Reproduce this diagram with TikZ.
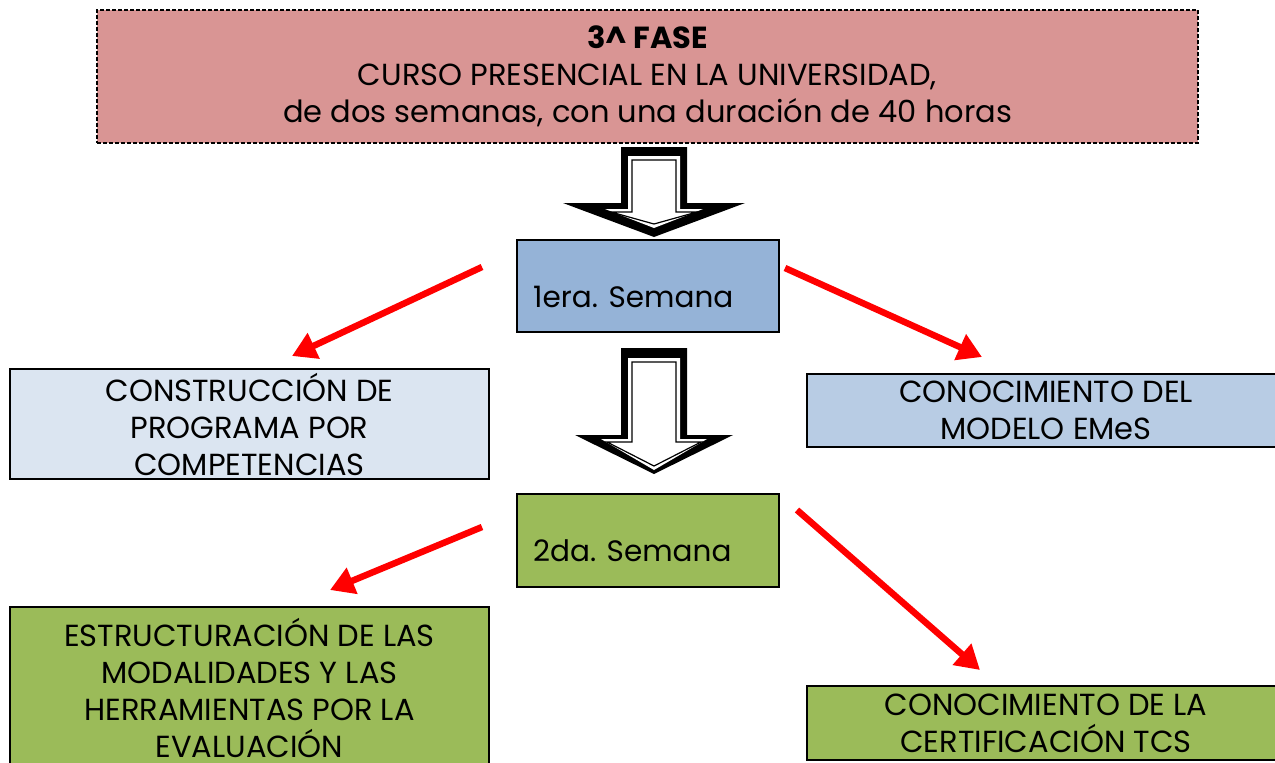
\documentclass[tikz,border=0pt]{standalone}
\usepackage{fontspec}
\setmainfont{Poppins}
\usetikzlibrary{arrows.meta}
\definecolor{faserosa}{HTML}{D99594}
\definecolor{semazul}{HTML}{95B3D7}
\definecolor{azulclaro}{HTML}{DBE5F1}
\definecolor{azulmedio}{HTML}{B8CCE4}
\definecolor{verdeoliva}{HTML}{9BBB59}

\begin{document}
\begin{tikzpicture}[x=1pt, y=-1pt,
    caja/.style={draw, line width=1.8pt, align=center, inner sep=0pt,
      font=\fontsize{30.5}{37}\selectfont},
    etiqueta/.style={anchor=west, inner sep=0pt, font=\fontsize{29.5}{36}\selectfont},
    flecharoja/.style={draw=red, line width=6.5pt, -{Triangle[length=24pt,width=27pt]}}]
  \useasboundingbox (0,0) rectangle (1275,763);

  % cajas
  \node[caja, fill=faserosa, dashed, line width=1.3pt, dash pattern=on 4pt off 2pt,
    minimum width=1101pt, minimum height=133pt] (fase) at (647.5,76.5)
    {{\bfseries 3\textasciicircum{} FASE}\\CURSO PRESENCIAL EN LA UNIVERSIDAD,\\de dos semanas, con una duración de 40 horas};
  \node[caja, fill=semazul, minimum width=262pt, minimum height=92pt] (sem1) at (648,286) {};
  \node[etiqueta] (sem1txt) at (533,297) {1era. Semana};
  \node[caja, fill=azulclaro, minimum width=479pt, minimum height=110pt] (constr) at (249.5,424)
    {CONSTRUCCIÓN DE\\PROGRAMA POR\\COMPETENCIAS};
  \node[caja, fill=azulmedio, minimum width=478pt, minimum height=73pt] (modelo) at (1046,410.5)
    {CONOCIMIENTO DEL\\MODELO EMeS};
  \node[caja, fill=verdeoliva, minimum width=262pt, minimum height=93pt] (sem2) at (648,540.5) {};
  \node[etiqueta] (sem2txt) at (533,551) {2da. Semana};
  \node[caja, fill=verdeoliva, minimum width=479pt, minimum height=162pt] (estruct) at (249.5,688)
    {ESTRUCTURACIÓN DE LAS\\MODALIDADES Y LAS\\HERRAMIENTAS POR LA\\EVALUACIÓN};
  \node[caja, fill=verdeoliva, minimum width=478pt, minimum height=74pt] (cert) at (1046,723)
    {CONOCIMIENTO DE LA\\CERTIFICACIÓN TCS};

  % flechas huecas
  \foreach \yt/\yh/\yb/\hw/\it/\ih/\ib/\iw in {147/203/237/91/160/212/224/43, 348/435/474/79/362/442/466/47} {
    \fill[black] (621,\yt) -- (687,\yt) -- (687,\yh) -- ({654+\hw},\yh) -- (654,\yb)
      -- ({654-\hw},\yh) -- (621,\yh) -- cycle;
    \fill[white] (628,{\it-4}) -- (680,{\it-4}) -- (680,{\ih-3}) -- ({654+\iw+6},{\ih-3})
      -- (654,{\ib+4}) -- ({654-\iw-6},{\ih-3}) -- (628,{\ih-3}) -- cycle;
    \draw[black, line width=1.2pt] (632,\it) -- (676,\it) -- (676,\ih) -- ({654+\iw},\ih)
      -- (654,\ib) -- ({654-\iw},\ih) -- (632,\ih) -- cycle;
  }

  % flechas rojas
  \coordinate (r1a) at (482,267);
  \coordinate (r1b) at (292,356);
  \coordinate (r2a) at (785,268);
  \coordinate (r2b) at (982,357);
  \coordinate (r3a) at (482,527);
  \coordinate (r3b) at (330,590);
  \coordinate (r4a) at (797,510);
  \coordinate (r4b) at (980,670);
  \draw[flecharoja] (r1a) -- (r1b);
  \draw[flecharoja] (r2a) -- (r2b);
  \draw[flecharoja] (r3a) -- (r3b);
  \draw[flecharoja] (r4a) -- (r4b);
\end{tikzpicture}
\end{document}
